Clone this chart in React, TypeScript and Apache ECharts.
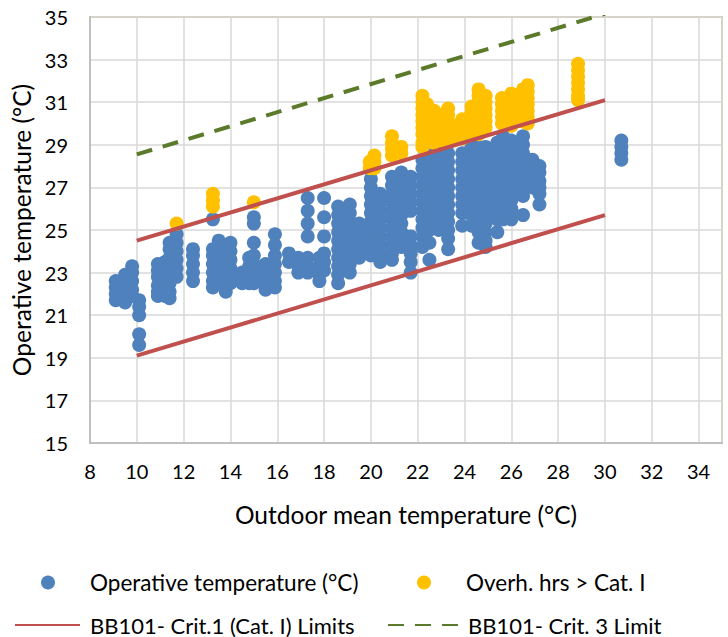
import React, { useEffect, useRef } from "react";
import * as echarts from "echarts";

// Blue: operative temperature, grouped by outdoor running-mean temperature (x) -> operative temps (y)
const opX = [9.1, 9.5, 9.8, 10.1, 10.9, 11.2, 11.4, 11.7, 12.4, 13.25, 13.5, 13.8, 14.0, 14.5, 14.8, 15.0, 15.5, 15.9, 16.5, 16.9, 17.3, 17.8, 18.0, 18.6, 19.1, 19.5, 20.0, 20.4, 20.9, 21.3, 21.7, 22.2, 22.5, 22.9, 23.3, 23.9, 24.3, 24.6, 24.9, 25.4, 25.65, 26.0, 26.5, 26.7, 26.9, 27.2, 30.7];
const opY = [
  [22.6, 22.3, 22.0, 21.7],
  [22.9, 22.6, 22.3, 22.0, 21.6],
  [23.3, 23.0, 22.6, 22.2, 21.9],
  [21.7, 21.4, 21.0, 20.1, 19.6],
  [23.4, 23.1, 22.8, 22.4, 22.1, 21.9],
  [23.5, 23.1, 22.7, 22.3, 21.9],
  [24.4, 24.1, 23.7, 23.3, 22.9, 22.5, 22.1, 21.8],
  [24.8, 24.4, 24.0, 23.6, 23.2, 22.8],
  [24.1, 23.8, 23.4, 23.0, 22.6],
  [25.5, 24.1, 23.8, 23.4, 23.0, 22.6, 22.3],
  [24.5, 24.1, 23.7, 23.3, 22.9, 22.5],
  [24.2, 23.8, 23.4, 23.0, 22.6, 22.1],
  [24.4, 24.0, 23.6, 23.2, 22.8, 22.5],
  [23.0, 22.7, 22.5],
  [23.7, 23.3, 22.9, 22.5],
  [25.6, 25.3, 24.4, 23.8, 23.4, 23.1, 22.8, 22.5],
  [23.4, 23.0, 22.6, 22.2],
  [24.8, 24.3, 23.8, 23.4, 23.0, 22.6, 22.3],
  [23.9, 23.5],
  [23.7, 23.3, 23.0],
  [26.5, 25.9, 25.3, 24.7, 23.7, 23.3, 23.0],
  [23.7, 23.3, 22.9, 22.6],
  [26.5, 25.6, 24.7, 23.9, 23.5, 23.1],
  [26.1, 25.7, 25.3, 24.9, 24.5, 24.1, 23.7, 23.3, 22.9, 22.5],
  [26.2, 25.8, 25.4, 25.0, 24.6, 24.2, 23.8, 23.4, 23.0],
  [25.3, 24.9, 24.5, 24.1, 23.7],
  [27.4, 27.0, 26.6, 26.2, 25.8, 25.4, 25.0, 24.6, 24.2, 23.8],
  [26.7, 26.3, 25.9, 25.5, 25.1, 24.7, 24.3, 23.9, 23.5],
  [27.5, 27.1, 26.7, 26.3, 25.9, 25.5, 25.1, 24.7, 24.3, 23.9, 23.6],
  [27.7, 27.3, 26.9, 26.5, 26.1, 25.7, 25.3, 24.9, 24.5, 24.2],
  [27.5, 27.1, 26.7, 26.3, 25.9, 24.7, 24.3, 23.9, 23.5, 23.0],
  [28.3, 27.9, 27.5, 27.1, 26.7, 26.3, 25.9, 25.5, 25.1, 24.7, 24.2],
  [28.6, 28.2, 27.8, 27.4, 27.0, 26.6, 26.2, 25.8, 25.4, 25.0, 24.4, 23.6],
  [28.6, 28.2, 27.8, 27.4, 27.0, 26.6, 26.2, 25.8, 25.4, 25.0],
  [28.6, 28.2, 27.8, 27.4, 27.0, 26.6, 26.2, 25.8, 25.4, 25.0, 24.6, 24.1],
  [28.6, 28.2, 27.8, 27.4, 27.0, 26.6, 26.2, 25.8, 25.2],
  [28.9, 28.5, 28.1, 27.7, 27.3, 26.9, 26.5, 26.1, 25.7, 25.2],
  [28.9, 28.5, 28.1, 27.7, 27.3, 26.9, 26.5, 26.1, 25.7, 25.3, 24.9, 24.4],
  [28.9, 28.5, 28.1, 27.7, 27.3, 26.9, 26.5, 26.1, 25.7, 25.3, 24.9, 24.5, 24.2],
  [29.1, 28.7, 28.3, 27.9, 27.5, 27.1, 26.7, 26.3, 25.9, 25.5, 24.9],
  [29.4, 29.0, 28.6, 28.2, 27.8, 27.4, 27.0, 26.6, 26.2, 25.8, 25.5],
  [29.2, 28.8, 28.4, 28.0, 27.6, 27.2, 26.8, 26.4, 26.0, 25.5],
  [29.4, 29.0, 28.6, 28.2, 27.8, 27.4, 27.0, 26.6, 25.7],
  [28.3, 28.0, 27.7],
  [28.3, 28.0, 27.7, 27.4, 27.0],
  [28.0, 27.7, 27.3, 27.0, 26.7, 26.2],
  [29.2, 28.9, 28.6, 28.3],
];

// Yellow: overheating hours above Cat. I
const ovX = [11.7, 13.25, 15.0, 19.95, 20.15, 20.9, 21.3, 22.2, 22.4, 22.7, 23.0, 23.3, 23.6, 23.9, 24.3, 24.6, 24.9, 25.6, 26.0, 26.5, 26.7, 28.85];
const ovY = [
  [25.3],
  [26.7, 26.4, 26.1],
  [26.3],
  [28.2, 27.9],
  [28.5, 28.2, 27.9],
  [29.4, 29.1, 28.8, 28.5],
  [28.9, 28.6],
  [31.3, 31.0, 30.7, 30.4, 30.1, 29.8, 29.5, 29.1, 28.9],
  [30.9, 30.6, 30.3, 30.0, 29.7, 29.4, 29.1],
  [30.6, 30.3, 30.0, 29.7, 29.4, 29.1],
  [30.4, 30.1, 29.8, 29.5, 29.2],
  [30.7, 30.4, 30.1, 29.8, 29.5, 29.2],
  [29.9, 29.6, 29.3],
  [30.2, 29.9, 29.6, 29.3],
  [30.8, 30.5, 30.2, 29.9, 29.6],
  [31.6, 31.3, 31.0, 30.7, 30.4, 30.1, 29.8, 29.5],
  [31.3, 31.0, 30.7, 30.4, 30.1, 29.8],
  [31.2, 30.9, 30.6, 30.3, 30.0],
  [31.4, 31.1, 30.8, 30.5, 30.2, 29.9],
  [31.6, 31.3, 31.0, 30.7, 30.4, 30.1],
  [31.8, 31.5, 31.2, 30.9, 30.6, 30.3, 30.0],
  [32.8, 32.5, 32.2, 31.9, 31.6, 31.3, 31.1],
];

// Limit lines
const limitX = [10, 30];
const cat1Upper = [24.5, 31.1];
const cat1Lower = [19.1, 25.7];
const crit3 = [28.55, 35.15];

const NAME_OP = "Operative temperature (°C)";
const NAME_OV = "Overh. hrs > Cat. I";
const NAME_C1 = "BB101- Crit.1 (Cat. I) Limits";
const NAME_C3 = "BB101- Crit. 3 Limit";

const FONT = "Lato";

function columnsToPoints(xs: number[], ys: number[][]) {
  const pts: number[][] = [];
  xs.forEach((x, i) => ys[i].forEach((y) => pts.push([x, y])));
  return pts;
}
function linePoints(xs: number[], ys: number[]) {
  return xs.map((x, i) => [x, ys[i]]);
}

export default function App() {
  const ref = useRef<HTMLDivElement>(null);
  useEffect(() => {
    if (!ref.current) return;
    const chart = echarts.init(ref.current, undefined, { renderer: "svg" });
    const legendText = (pad: number, size: number) => ({
      fontFamily: FONT,
      fontSize: size,
      lineHeight: 20,
      color: "#000",
      padding: [0, 0, 0, pad],
    });
    const legendBase = {
      orient: "horizontal",
      padding: 0,
      selectedMode: false,
    };
    chart.setOption({
      animation: false,
      backgroundColor: "#ffffff",
      textStyle: { fontFamily: FONT },
      grid: {
        left: 90,
        right: 6,
        top: 17,
        bottom: 194,
        show: true,
        borderColor: "#C9C3A0",
        borderWidth: 2,
        containLabel: false,
      },
      xAxis: {
        type: "value",
        min: 8,
        max: 35,
        interval: 2,
        name: "Outdoor mean temperature (°C)",
        nameLocation: "middle",
        nameGap: 59,
        nameTextStyle: { fontFamily: FONT, fontSize: 24.5, color: "#000" },
        axisLine: { show: true, onZero: false, lineStyle: { color: "#BFBFBF", width: 2 } },
        axisTick: { show: false },
        splitLine: { show: true, lineStyle: { color: "#D9D9D9", width: 1.5 } },
        axisLabel: {
          fontFamily: FONT,
          fontSize: 20,
          color: "#000",
          margin: 18,
          formatter: (v: number) => (v === 35 ? "" : String(v)),
        },
      },
      yAxis: {
        type: "value",
        min: 15,
        max: 35,
        interval: 2,
        name: "Operative temperature (°C)",
        nameLocation: "middle",
        nameRotate: 90,
        nameGap: 56,
        nameTextStyle: { fontFamily: FONT, fontSize: 24.5, color: "#000" },
        axisLine: { show: true, onZero: false, lineStyle: { color: "#BFBFBF", width: 2 } },
        axisTick: { show: false },
        splitLine: { show: true, lineStyle: { color: "#D9D9D9", width: 1.5 } },
        axisLabel: { fontFamily: FONT, fontSize: 20, color: "#000", margin: 22 },
      },
      legend: [
        { ...legendBase, data: [NAME_OP], left: 41, top: 571, itemWidth: 14, itemHeight: 14, icon: "circle", textStyle: legendText(30, 22.5) },
        { ...legendBase, data: [NAME_OV], left: 417, top: 571, itemWidth: 14, itemHeight: 14, icon: "circle", textStyle: legendText(30, 22.5) },
        { ...legendBase, data: [NAME_C1], left: 14, top: 614, itemWidth: 65, itemHeight: 14, itemStyle: { opacity: 0 }, textStyle: legendText(5, 22) },
        { ...legendBase, data: [NAME_C3], left: 387, top: 614, itemWidth: 71, itemHeight: 14, itemStyle: { opacity: 0 }, textStyle: legendText(4, 22) },
      ],
      series: [
        {
          name: NAME_OP,
          type: "scatter",
          symbol: "circle",
          symbolSize: 14,
          itemStyle: { color: "#4F81BD", opacity: 1 },
          data: columnsToPoints(opX, opY),
          z: 2,
        },
        {
          name: NAME_OV,
          type: "scatter",
          symbol: "circle",
          symbolSize: 14,
          itemStyle: { color: "#FFC000", opacity: 1 },
          data: columnsToPoints(ovX, ovY),
          z: 3,
        },
        {
          name: NAME_C1,
          type: "line",
          symbol: "none",
          lineStyle: { color: "#C0504D", width: 4 },
          itemStyle: { color: "#C0504D" },
          data: linePoints(limitX, cat1Upper),
          z: 4,
        },
        {
          name: NAME_C1,
          type: "line",
          symbol: "none",
          lineStyle: { color: "#C0504D", width: 4 },
          itemStyle: { color: "#C0504D" },
          data: linePoints(limitX, cat1Lower),
          z: 4,
        },
        {
          name: NAME_C3,
          type: "line",
          symbol: "none",
          lineStyle: { color: "#5B7A2A", width: 4, type: [16, 11] },
          itemStyle: { color: "#5B7A2A" },
          data: linePoints(limitX, crit3),
          z: 4,
        },
      ],
    });
    return () => chart.dispose();
  }, []);
  return (
    <div
      ref={ref}
      style={{ position: "fixed", left: 0, top: 0, width: 728, height: 637, background: "#fff" }}
    />
  );
}
